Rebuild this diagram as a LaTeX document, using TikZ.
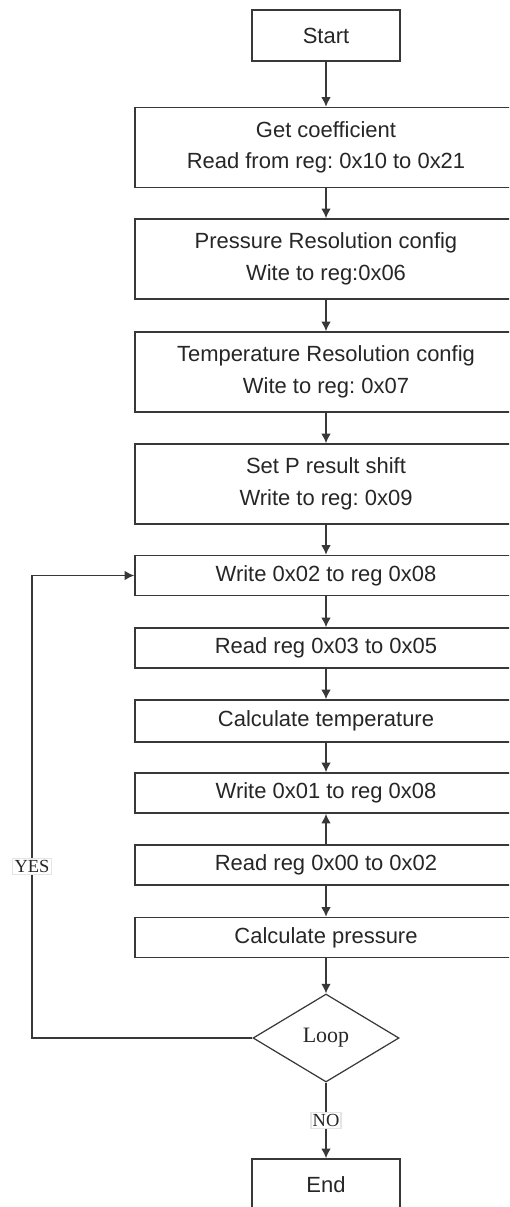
\documentclass[tikz,border=0pt]{standalone}
\usepackage{fontspec}
\setmainfont{Liberation Sans}
\newfontfamily\serifcn{Liberation Serif}
\usetikzlibrary{arrows.meta,shapes.geometric}
\frenchspacing
\colorlet{ln}{black!78}
\tikzset{t/.style={draw=ln,line width=.9pt,minimum width=29.6mm,minimum height=10.2mm,inner sep=0pt},
 b/.style={draw=ln,line width=.9pt,minimum width=76.4mm,minimum height=16mm,align=center,inner sep=0pt},
 s/.style={draw=ln,line width=.9pt,minimum width=76.4mm,minimum height=8mm,inner sep=0pt},
 d/.style={diamond,draw=ln,line width=.7pt,minimum width=29.2mm,minimum height=17.6mm,inner sep=0pt,font=\serifcn\fontsize{12.5}{14}\selectfont},
 flow/.style={-{Latex[length=1.9mm,width=1.9mm]},draw=ln,line width=.8pt},wire/.style={draw=ln,line width=.8pt},
 lbl/.style={fill=white,draw=black!10,inner sep=1pt,font=\serifcn\fontsize{10.5}{12}\selectfont}}

\begin{document}
\begin{tikzpicture}[every node/.style={font=\fontsize{12.5}{18}\selectfont,text=black!85}]
\clip (0,0) rectangle (10.18,-24.14);
\node[t] (start) at (6.52,-.71) {Start};
\node[b] (coef) at (6.52,-2.95) {Get coefficient\\Read from reg: 0x10 to 0x21};
\node[b] (pres) at (6.52,-5.18) {Pressure Resolution config\\Wite to reg:0x06};
\node[b] (temp) at (6.52,-7.44) {Temperature Resolution config\\Wite to reg: 0x07};
\node[b] (shift) at (6.52,-9.68) {Set P result shift\\Write to reg: 0x09};
\node[s] (w02) at (6.52,-11.51) {Write 0x02 to reg 0x08};
\node[s] (r03) at (6.52,-12.96) {Read reg 0x03 to 0x05};
\node[s,minimum height=8.4mm] (ctemp) at (6.52,-14.42) {Calculate temperature};
\node[s] (w01) at (6.52,-15.86) {Write 0x01 to reg 0x08};
\node[s] (r00) at (6.52,-17.30) {Read reg 0x00 to 0x02};
\node[s] (cpres) at (6.52,-18.75) {Calculate pressure};
\node[d] (loop) at (6.52,-20.76) {Loop};
\node[t] (end) at (6.52,-23.69) {End};
\coordinate (back) at (.64,-20.76);
% main flow
\foreach \a/\b in {start/coef,coef/pres,pres/temp,temp/shift,shift/w02,w02/r03,r03/ctemp,ctemp/w01,r00/w01,r00/cpres,cpres/loop}
 {\draw[flow](\a)--(\b);}
\draw[flow] (loop) -- node[lbl]{NO} (end);
% repeat
\draw[flow] (loop.west) -- (back) |- (w02.west);
\node[lbl] (yes) at (.64,-17.32) {YES};
\end{tikzpicture}
\end{document}
